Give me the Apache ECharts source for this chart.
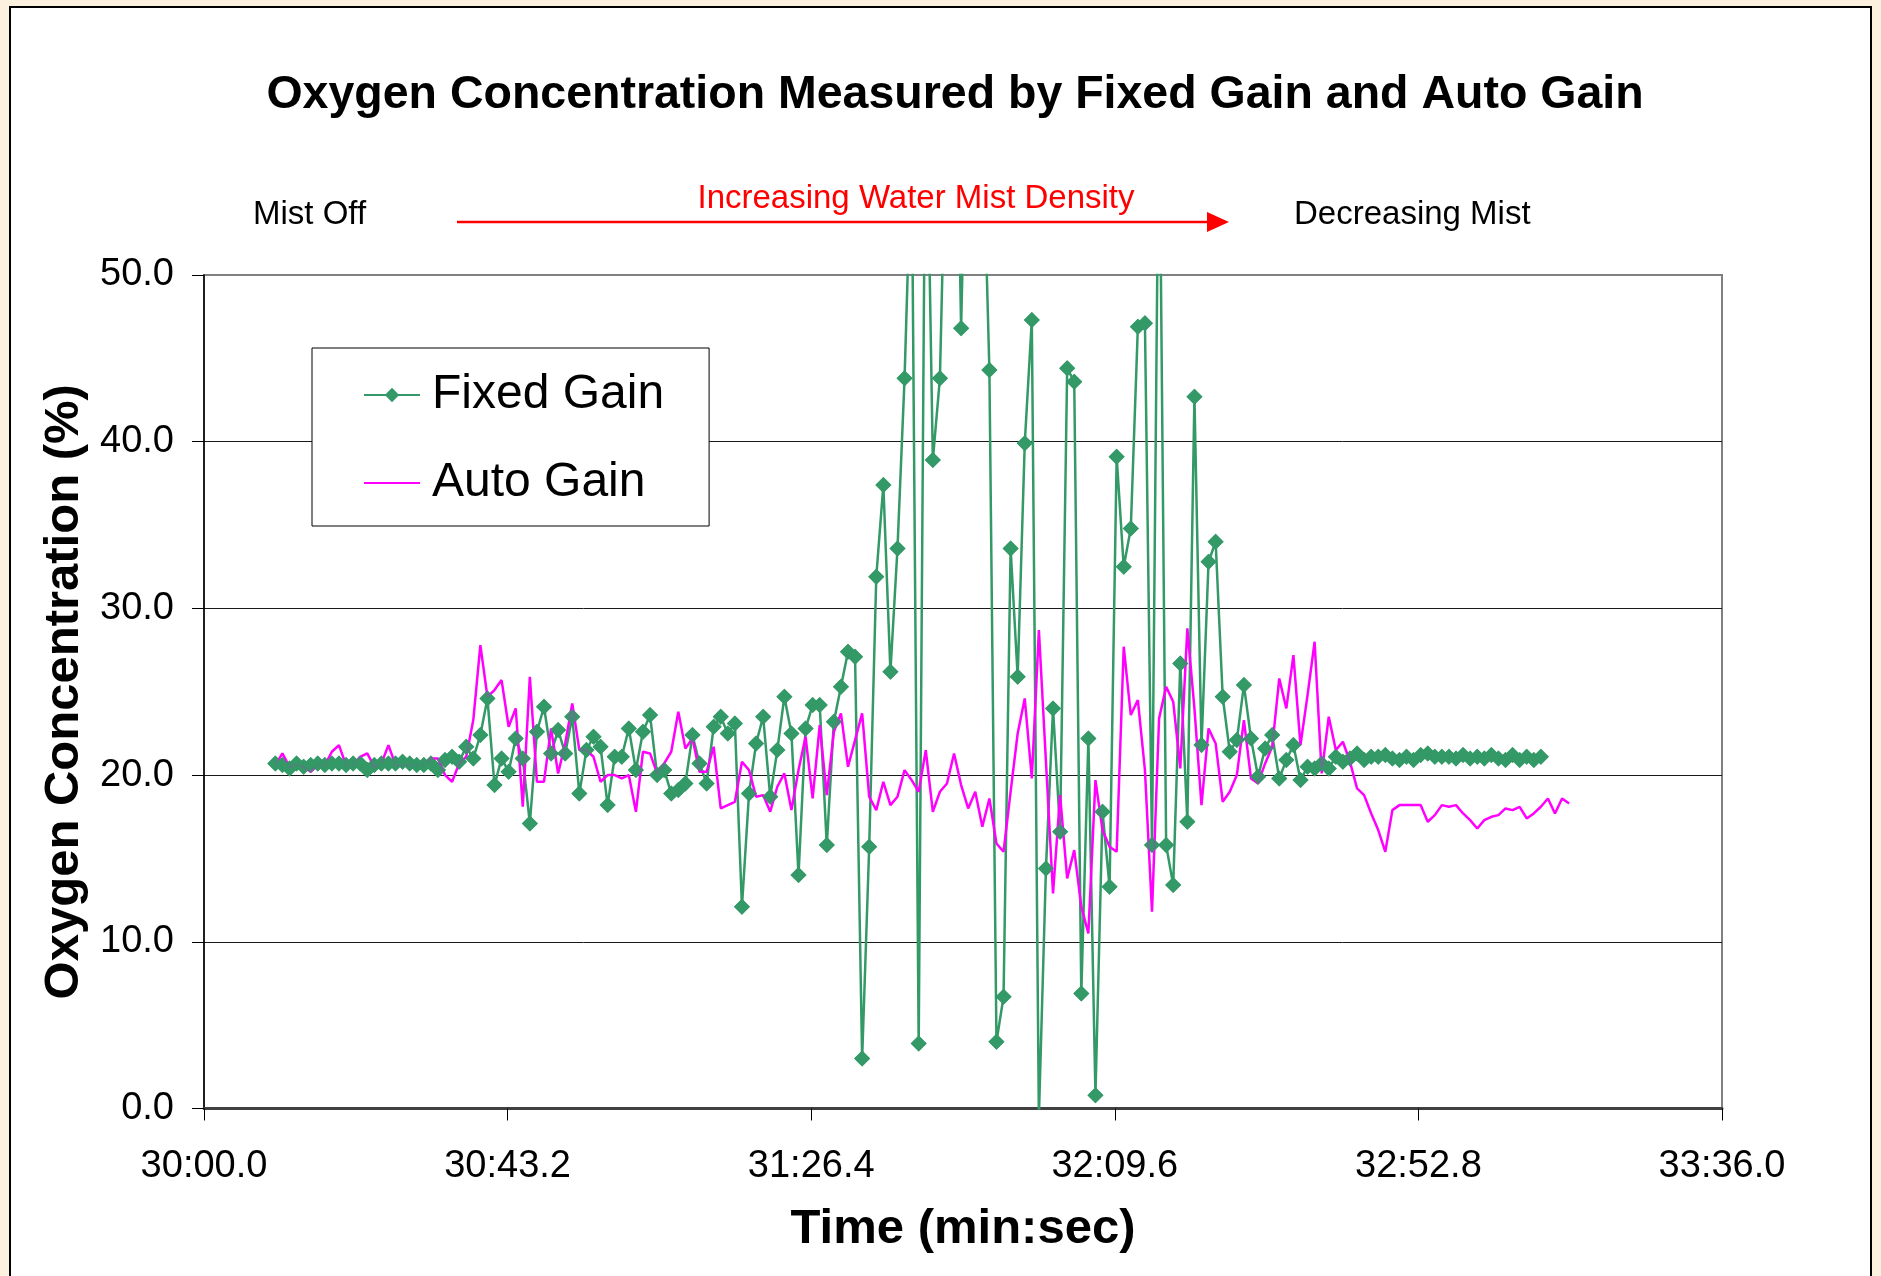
<!DOCTYPE html>
<html>
<head>
<meta charset="utf-8">
<script src="https://cdn.jsdelivr.net/npm/echarts@6/dist/echarts.min.js"></script>
<style>
  html, body { margin: 0; padding: 0; background: #FBF1DE; }
  #chart { width: 1881px; height: 1276px; }
</style>
</head>
<body>
<div id="chart"></div>
<script>
// ---- Data (seconds after 30:00.0, oxygen %) ----
const sampleStart = 10.15;  // time of first sample, s after 30:00.0
const sampleStep = 1.006;   // logger sampling interval, s

const fixedGain = [
  20.7, 20.6, 20.4, 20.7, 20.5, 20.6, 20.7, 20.6, 20.7, 20.7, 20.6, 20.7, 20.7, 20.3, 20.6, 20.7, 20.7, 20.7, 20.8, 20.7, 20.6, 20.6, 20.7,
  20.3, 20.9, 21.1, 20.8, 21.7, 21.0, 22.4, 24.6, 19.4, 21.0, 20.2, 22.2, 21.0,
  17.1, 22.6, 24.1, 21.3, 22.7, 21.3, 23.5, 18.9, 21.5, 22.3, 21.7, 18.2, 21.1, 21.1, 22.8, 20.3, 22.6, 23.6, 20.0, 20.3, 18.9, 19.1, 19.5, 22.4, 20.7, 19.5, 22.9, 23.5, 22.5, 23.1, 12.1,
  18.9, 21.9, 23.5, 18.7, 21.5,
  24.7, 22.5, 14.0, 22.8, 24.2, 24.2, 15.8, 23.2, 25.3, 27.4, 27.1, 3.0, 15.7, 31.9, 37.4, 26.2, 33.6, 43.8, 58.0, 3.9, 64.0, 38.9, 43.8, 62.0, 70.0, 46.8, 66.0, 74.0, 60.0, 44.3, 4.0, 6.7, 33.6, 25.9, 39.9, 47.3, -0.5,
  14.4, 24.0, 16.6, 44.4, 43.6, 6.9, 22.2, 0.8, 17.8, 13.3, 39.1, 32.5, 34.8, 46.9, 47.1, 15.8, 62.0, 15.8, 13.4, 26.7, 17.2, 42.7, 21.8, 32.8, 34.0, 24.7, 21.4, 22.1, 25.4, 22.2, 19.9, 21.6, 22.4, 19.8, 20.9,
  21.8, 19.7, 20.5, 20.4, 20.7, 20.4, 21.1, 20.8, 21.0, 21.3, 20.9, 21.1, 21.1, 21.2, 21.0, 20.9, 21.1, 20.9, 21.2, 21.3, 21.1, 21.1, 21.1, 21.0, 21.2, 21.0, 21.1, 21.0, 21.2, 21.0, 20.9, 21.2, 20.9, 21.1, 20.9, 21.1
];

const autoGain = [
  20.6, 21.3, 20.5, 20.6, 20.5, 20.2, 20.6, 20.6, 21.4, 21.8, 20.6, 20.6, 21.1, 21.3, 20.5, 20.7, 21.8, 20.6, 20.6, 20.6, 20.6, 20.6, 21.0,
  21.0, 20.0, 19.6, 20.7, 21.1, 23.3, 27.8, 24.7, 25.1, 25.7, 22.9, 24.0, 18.1,
  25.9, 19.6, 19.6, 22.8, 20.1, 21.9, 24.3, 21.5, 21.5, 21.1, 19.6, 20.0, 20.0, 19.8, 20.0, 17.8, 21.4, 21.3, 20.1, 20.7, 21.4, 23.8, 21.6, 22.2, 20.2, 20.2, 21.7, 18.0, 18.2, 18.4, 20.8,
  20.3, 18.7, 18.8, 17.8, 19.3,
  20.1, 17.9, 20.3, 22.3, 18.6, 23.0, 18.8, 22.6, 23.7, 20.5, 22.1, 23.7, 18.7, 17.9, 19.6, 18.2, 18.7, 20.3, 19.7, 19.0, 21.5, 17.8, 19.0, 19.5, 21.3, 19.4, 18.0, 19.0, 16.9, 18.6, 15.9, 15.4, 19.0, 22.5, 24.6, 19.8, 28.7,
  20.8, 12.9, 18.8, 13.8, 15.5, 12.1, 10.5, 19.7, 16.7, 15.7, 15.4, 27.7, 23.6, 24.5, 20.3, 11.8, 23.4, 25.3, 24.4, 20.4, 28.8, 24.0, 18.2, 22.8, 21.9, 18.4, 19.0, 20.0, 23.3, 19.8, 19.5, 20.7, 21.7, 25.8, 24.0,
  27.2, 21.8, 24.8, 28.0, 20.1, 23.5, 21.5, 22.0, 20.8, 19.2, 18.8, 17.7, 16.7, 15.4, 17.9, 18.2, 18.2, 18.2, 18.2, 17.2, 17.6, 18.2, 18.1, 18.2, 17.7, 17.3, 16.8, 17.3, 17.5, 17.6, 18.0, 17.9, 18.1, 17.4, 17.7, 18.1, 18.6, 17.7, 18.6, 18.3
];

const xTickLabels = ['30:00.0', '30:43.2', '31:26.4', '32:09.6', '32:52.8', '33:36.0'];
const xTickStep = 43.2;
const seriesNames = ['Fixed Gain', 'Auto Gain'];

// ---- Build ----
const toPairs = arr => arr.map((v, i) => [sampleStart + i * sampleStep, v]);
const fixedPairs = toPairs(fixedGain);
const autoPairs = toPairs(autoGain);

const FONT = '"Liberation Sans", Arial, sans-serif';
const GREEN = '#339966';
const MAGENTA = '#FF00FF';

const chart = echarts.init(document.getElementById('chart'), null, { renderer: 'canvas' });
chart.setOption({
  animation: false,
  backgroundColor: '#FBF1DE',
  title: {
    text: 'Oxygen Concentration Measured by Fixed Gain and Auto Gain',
    left: 950, top: 67, textAlign: 'center',
    textStyle: { fontFamily: FONT, fontSize: 46.5, fontWeight: 'bold', color: '#000' }
  },
  legend: {
    data: [
      { name: seriesNames[0] },
      { name: seriesNames[1], itemStyle: { color: 'rgba(0,0,0,0)', opacity: 0, borderWidth: 0 } }
    ],
    orient: 'vertical',
    left: 312, top: 348,
    padding: [19, 45, 15, 51],
    itemGap: 32,
    itemWidth: 56, itemHeight: 18,
    backgroundColor: '#fff',
    borderColor: '#000', borderWidth: 1,
    textStyle: { fontFamily: FONT, fontSize: 48, color: '#000', lineHeight: 56, padding: [0, 0, 0, 7] }
  },
  grid: {
    left: 204, top: 275, width: 1518, height: 833.5,
    show: true, borderColor: '#808080', borderWidth: 2, backgroundColor: 'transparent'
  },
  xAxis: {
    type: 'value', min: 0, max: 216, interval: xTickStep,
    name: 'Time (min:sec)', nameLocation: 'middle', nameGap: 96,
    nameTextStyle: { fontFamily: FONT, fontSize: 49, fontWeight: 'bold', color: '#000' },
    axisLine: { show: true, onZero: false, lineStyle: { color: '#404040', width: 3 } },
    axisTick: { show: true, inside: false, length: 12, lineStyle: { color: '#000', width: 1 } },
    axisLabel: {
      margin: 39, fontFamily: FONT, fontSize: 38, color: '#000', lineHeight: 38,
      formatter: v => xTickLabels[Math.round(v / xTickStep)] || ''
    },
    splitLine: { show: false }
  },
  yAxis: {
    type: 'value', min: 0, max: 50, interval: 10,
    name: 'Oxygen Concentration (%)', nameLocation: 'middle', nameGap: 114, nameRotate: 90,
    nameTextStyle: { fontFamily: FONT, fontSize: 49, fontWeight: 'bold', color: '#000' },
    axisLine: { show: true, lineStyle: { color: '#000', width: 1.5 } },
    axisTick: { show: true, inside: false, length: 12, lineStyle: { color: '#000', width: 1 } },
    axisLabel: { margin: 30, fontFamily: FONT, fontSize: 38, color: '#000', formatter: v => v.toFixed(1) },
    splitLine: { show: true, showMinLine: false, showMaxLine: false, lineStyle: { color: '#1a1a1a', width: 1 } }
  },
  series: [
    {
      name: seriesNames[0], type: 'line', data: fixedPairs,
      symbol: 'diamond', symbolSize: 16, showSymbol: true,
      color: GREEN, itemStyle: { color: GREEN },
      lineStyle: { color: GREEN, width: 2.5 },
      clip: true, z: 2
    },
    {
      name: seriesNames[1], type: 'line', data: autoPairs,
      symbol: 'none', showSymbol: false,
      color: MAGENTA, itemStyle: { color: MAGENTA },
      lineStyle: { color: MAGENTA, width: 2.5 },
      clip: true, z: 3
    },
    {
      name: 'Fixed Gain markers', type: 'scatter', data: fixedPairs,
      symbol: 'diamond', symbolSize: 16,
      itemStyle: { color: GREEN }, clip: true, silent: true, z: 4
    }
  ],
  graphic: [
    { type: 'rect', z: -100, silent: true,
      shape: { x: 10, y: 7, width: 1861, height: 1300 },
      style: { fill: '#fff', stroke: '#000', lineWidth: 2 } },
    { type: 'text', x: 253, y: 214.5, silent: true,
      style: { text: 'Mist Off', font: '33px ' + FONT, fill: '#000', textAlign: 'left', textVerticalAlign: 'middle' } },
    { type: 'text', x: 916, y: 198.5, silent: true,
      style: { text: 'Increasing Water Mist Density', font: '33px ' + FONT, fill: '#FF0000', textAlign: 'center', textVerticalAlign: 'middle' } },
    { type: 'text', x: 1294, y: 214.5, silent: true,
      style: { text: 'Decreasing Mist', font: '33px ' + FONT, fill: '#000', textAlign: 'left', textVerticalAlign: 'middle' } },
    { type: 'line', silent: true,
      shape: { x1: 457, y1: 222, x2: 1210, y2: 222 },
      style: { stroke: '#FF0000', lineWidth: 2.5 } },
    { type: 'polygon', silent: true,
      shape: { points: [[1207, 212], [1229, 222], [1207, 232]] },
      style: { fill: '#FF0000' } }
  ]
});
</script>
</body>
</html>
